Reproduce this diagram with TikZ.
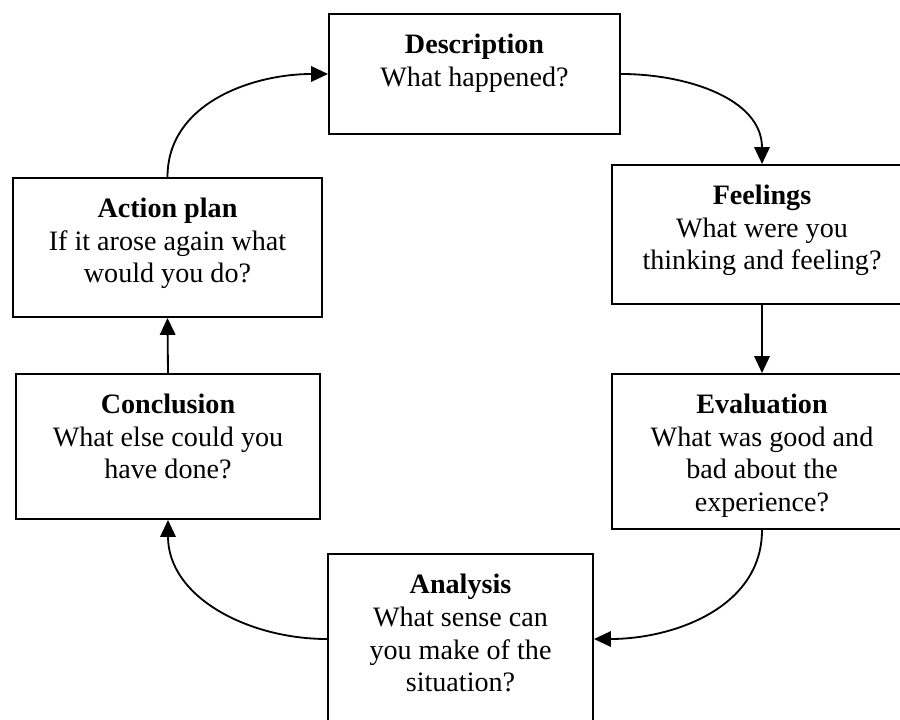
\documentclass[tikz,border=0pt]{standalone}
\usepackage{fontspec}
\setmainfont{Liberation Serif}
\usepackage{tikz}
\usetikzlibrary{arrows.meta}
\tikzstyle{node_stage} = [rectangle, draw, line width=1.4pt, inner sep=0pt, anchor=north, font=\fontsize{20}{23.4}\selectfont]
\tikzstyle{edge_cycle} = [line width=1.3pt, -{Triangle[length=12pt,width=11pt]}]
\newcommand{\stagetext}[4]{\parbox[t][#2][t]{#1}{\centering\vspace*{11.5pt}\strut\textbf{#3}\\#4}}

\begin{document}
\begin{tikzpicture}[x=0.025cm, y=-0.025cm]
\useasboundingbox (0,0) rectangle (900,720);
\clip (0,0) rectangle (900,720);
\node (D) at (474.5,13) [node_stage] {\stagetext{7.275cm}{3cm}{Description}{What happened?}};
\node (F) at (762,164) [node_stage] {\stagetext{7.5cm}{3.475cm}{Feelings}{What were you\\thinking and feeling?}};
\node (E) at (762,373) [node_stage] {\stagetext{7.5cm}{3.875cm}{Evaluation}{What was good and\\bad about the\\experience?}};
\node (A) at (460.5,553) [node_stage] {\stagetext{6.625cm}{4.25cm}{Analysis}{What sense can\\you make of the\\situation?}};
\node (C) at (168,373) [node_stage] {\stagetext{7.6cm}{3.625cm}{Conclusion}{What else could you\\have done?}};
\node (P) at (167.5,177) [node_stage] {\stagetext{7.725cm}{3.475cm}{Action plan}{If it arose again what\\would you do?}};
\draw[edge_cycle] (D.east) to[out=0, in=90] (F.north);
\draw[edge_cycle] (F.south) -- (E.north);
\draw[edge_cycle] (E.south) to[out=-90, in=0] (A.east);
\draw[edge_cycle] (A.west) to[out=180, in=-90] (C.south);
\draw[edge_cycle] (C.north) -- (P.south);
\draw[edge_cycle] (P.north) to[out=90, in=180] (D.west);
\end{tikzpicture}
\end{document}
